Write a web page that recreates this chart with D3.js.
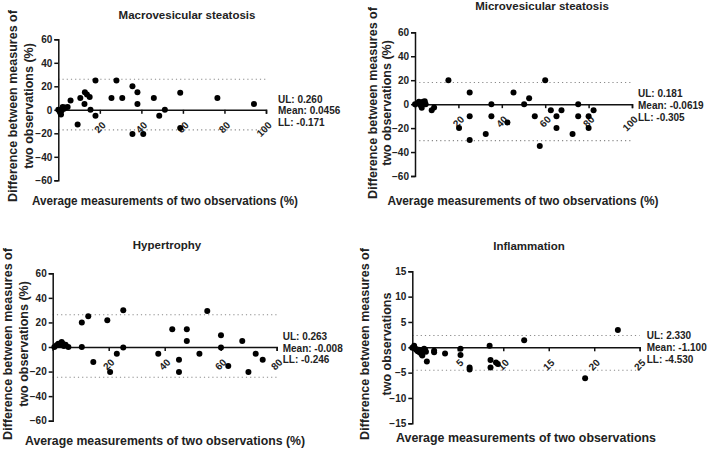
<!DOCTYPE html>
<html>
<head>
<meta charset="utf-8">
<script src="https://cdn.jsdelivr.net/npm/d3@7"></script>
<style>
  body { margin: 0; background: #fff; }
  svg { display: block; }
  text { font-family: "Liberation Sans", Arial, sans-serif; font-weight: bold; fill: #222; }
</style>
</head>
<body>
<div id="chart"></div>
<script>
// Bland-Altman style data: average of two observations vs difference
var macroAvg  = [0, 0.8, 1.3, 1.6, 2.1, 2.7, 3.2, 4.5, 5.9, 9.3, 10.6, 12.6, 12.8, 13.8, 15.1, 15.5, 17.9, 17.9, 25.6, 28, 30.8, 35.7, 35.7, 38.1, 38.1, 40.9, 46, 48.6, 51.3, 58.7, 58.7, 76.6, 94.2];
var macroDiff = [0, -2, -4, -0.5, 2.3, 1, 2, 2.3, 8, -12.5, 10, 5, 15, 13, 11, 0, -5, 25, 10, 25, 10, 20, -20.5, 15, 5, -20.5, 10, -5, 0, 14.5, -15.4, 10, 5];

var microAvg  = [0, 1.1, 1.8, 2.6, 3.1, 3.7, 4.5, 4.9, 7.7, 8.8, 15.4, 20.3, 25.2, 25.2, 25.2, 32.6, 35.2, 35.2, 42.6, 45.4, 50.3, 52.6, 55.2, 57.5, 60, 62.6, 65.2, 65.2, 67.5, 72.6, 75.2, 75.2, 80, 80, 82.3];
var microDiff = [0, 0.5, 2, -1, -3, 2, 2.5, 0, -5, -2.8, 20, -20, 9.7, -10, -30, -25, 0, -10, -15.3, 9.7, 0, 5, -10, -35, 20, -5, -10, -20, -5, -25, 0, -10, -10, -20, -5];

var hyperAvg  = [0.6, 1.4, 2, 2.6, 3.2, 3.6, 4, 4.6, 5.6, 10.4, 10.4, 12.7, 14.5, 19.5, 20.5, 22.9, 25.2, 25.2, 37.7, 42.7, 45.1, 45.1, 47.9, 47.9, 52.4, 55.2, 60.1, 60.1, 62.7, 67.7, 69.9, 72.5, 75];
var hyperDiff = [0, 1.4, 2.7, 1.9, 4, 2.7, 0.8, 1.9, 0, 20, 0, 25, -12.3, 21.8, -20.4, -5.4, 30, -0.5, -5.4, 14.4, -10.4, -20.4, 14.4, 4.9, -5.4, 29.4, 9.5, -0.5, -15.5, 4.9, -20.4, -5.4, -10.4];

var inflamAvg  = [0, 0.2, 0.3, 0.4, 0.5, 0.6, 0.7, 0.8, 0.9, 1.0, 1.1, 1.3, 1.4, 1.5, 1.6, 2.4, 2.4, 3.6, 5.3, 5.3, 6.3, 6.3, 8.5, 8.6, 8.6, 9.2, 9.4, 12.3, 19, 22.6];
var inflamDiff = [-0.1, 0.3, -0.2, -0.4, -0.6, -0.8, -0.5, -1.0, -0.6, -1.3, -1.6, -0.3, -0.5, -0.9, -2.8, -0.7, -1.0, -1.2, -0.3, -1.5, -4.0, -4.4, 0.3, -2.5, -4.0, -3.0, -3.3, 1.4, -6.1, 3.4];

var pctTicksY = [-60, -40, -20, 0, 20, 40, 60];
var pctTicksX100 = [20, 40, 60, 80, 100];
var pctTicksX80 = [20, 40, 60, 80];
var inflamTicksY = [-15, -10, -5, 0, 5, 10, 15];
var inflamTicksX = [5, 10, 15, 20, 25];

var macroLimits  = [26.0, -17.1], macroNotes  = ['UL: 0.260', 'Mean: 0.0456', 'LL: -0.171'];
var microLimits  = [18.1, -30.5], microNotes  = ['UL: 0.181', 'Mean: -0.0619', 'LL: -0.305'];
var hyperLimits  = [26.3, -24.6], hyperNotes  = ['UL: 0.263', 'Mean: -0.008', 'LL: -0.246'];
var inflamLimits = [2.33, -4.53], inflamNotes = ['UL: 2.330', 'Mean: -1.100', 'LL: -4.530'];

var svg = d3.select('#chart').append('svg')
  .attr('width', 708).attr('height', 449);

function drawPanel(p) {
  var x = d3.scaleLinear().domain([0, p.xMax]).range([p.left, p.right]);
  var y = d3.scaleLinear().domain([-p.yMax, p.yMax]).range([p.bottom, p.top]);
  var g = svg.append('g');

  // limits of agreement (dotted)
  g.selectAll('line.lim').data(p.limits).enter().append('line')
    .attr('x1', p.left).attr('x2', p.right)
    .attr('y1', function(d) { return y(d); })
    .attr('y2', function(d) { return y(d); })
    .attr('stroke', '#8a8a8a').attr('stroke-width', 1.1)
    .attr('stroke-dasharray', '1.2,3');

  var yAxis = g.append('g')
    .attr('transform', 'translate(' + p.left + ',0)')
    .call(d3.axisLeft(y).tickValues(p.yTicks).tickSize(4).tickPadding(2).tickFormat(d3.format('d')));
  yAxis.selectAll('text').style('font-size', '10px').attr('fill', '#222');

  var xAxis = g.append('g')
    .attr('transform', 'translate(0,' + y(0) + ')')
    .call(d3.axisBottom(x).tickValues(p.xTicks).tickSize(4).tickFormat(d3.format('d')));
  xAxis.selectAll('text')
    .style('font-size', '10px').attr('fill', '#222')
    .attr('text-anchor', 'end')
    .attr('dy', null).attr('y', null)
    .attr('transform', 'translate(6,16) rotate(-45)');

  g.selectAll('.domain, .tick line').attr('stroke', '#111').attr('stroke-width', 1.5);

  g.selectAll('circle').data(p.avg).enter().append('circle')
    .attr('cx', function(d) { return x(d); })
    .attr('cy', function(d, i) { return y(p.diff[i]); })
    .attr('r', 3)
    .attr('fill', '#000');

  svg.append('text').attr('x', p.titleX).attr('y', p.titleY)
    .attr('text-anchor', 'middle').style('font-size', '11.5px').text(p.title);

  svg.append('text').attr('x', p.xlabX).attr('y', p.xlabY)
    .attr('text-anchor', 'middle').style('font-size', '12.5px')
    .attr('textLength', p.xlabW).attr('lengthAdjust', 'spacingAndGlyphs')
    .text(p.xlab);

  p.ylab.forEach(function(t, i) {
    svg.append('text')
      .attr('transform', 'translate(' + p.ylabX[i] + ',' + p.ylabY + ') rotate(-90)')
      .attr('text-anchor', 'middle').style('font-size', '12.5px')
      .text(t);
  });

  svg.selectAll(null).data(p.notes).enter().append('text')
    .attr('x', p.noteX)
    .attr('y', function(d, i) { return p.noteY[i]; })
    .style('font-size', '10px').attr('fill', '#333')
    .text(function(d) { return d; });
}

var pctYlab = ['Difference between measures of', 'two observations (%)'];

drawPanel({
  title: 'Macrovesicular steatosis', titleX: 187, titleY: 19,
  avg: macroAvg, diff: macroDiff, limits: macroLimits, notes: macroNotes,
  xMax: 100, yMax: 60, xTicks: pctTicksX100, yTicks: pctTicksY,
  left: 58.3, right: 266, top: 39.3, bottom: 180.3,
  xlab: 'Average measurements of two observations (%)', xlabX: 165, xlabY: 205, xlabW: 266,
  ylab: pctYlab, ylabX: [17, 33], ylabY: 106,
  noteX: 278, noteY: [102.7, 113.7, 126]
});

drawPanel({
  title: 'Microvesicular steatosis', titleX: 542, titleY: 10,
  avg: microAvg, diff: microDiff, limits: microLimits, notes: microNotes,
  xMax: 100, yMax: 60, xTicks: pctTicksX100, yTicks: pctTicksY,
  left: 415, right: 632, top: 32.3, bottom: 176,
  xlab: 'Average measurements of two observations (%)', xlabX: 523, xlabY: 205, xlabW: 271,
  ylab: pctYlab, ylabX: [377, 391], ylabY: 103,
  noteX: 638, noteY: [97.3, 109, 120.7]
});

drawPanel({
  title: 'Hypertrophy', titleX: 167, titleY: 249,
  avg: hyperAvg, diff: hyperDiff, limits: hyperLimits, notes: hyperNotes,
  xMax: 80, yMax: 60, xTicks: pctTicksX80, yTicks: pctTicksY,
  left: 52.7, right: 276.7, top: 273.3, bottom: 420.7,
  xlab: 'Average measurements of two observations (%)', xlabX: 165, xlabY: 445, xlabW: 280,
  ylab: pctYlab, ylabX: [12, 28], ylabY: 344,
  noteX: 282.7, noteY: [340, 351.7, 363.3]
});

drawPanel({
  title: 'Inflammation', titleX: 529, titleY: 250,
  avg: inflamAvg, diff: inflamDiff, limits: inflamLimits, notes: inflamNotes,
  xMax: 25, yMax: 15, xTicks: inflamTicksX, yTicks: inflamTicksY,
  left: 412.3, right: 639.7, top: 271.3, bottom: 423.3,
  xlab: 'Average measurements of two observations', xlabX: 526, xlabY: 442, xlabW: 260,
  ylab: ['Difference between measures of', 'two observations'], ylabX: [369, 391], ylabY: 344,
  noteX: 646.7, noteY: [339, 351, 362.7]
});
</script>
</body>
</html>
